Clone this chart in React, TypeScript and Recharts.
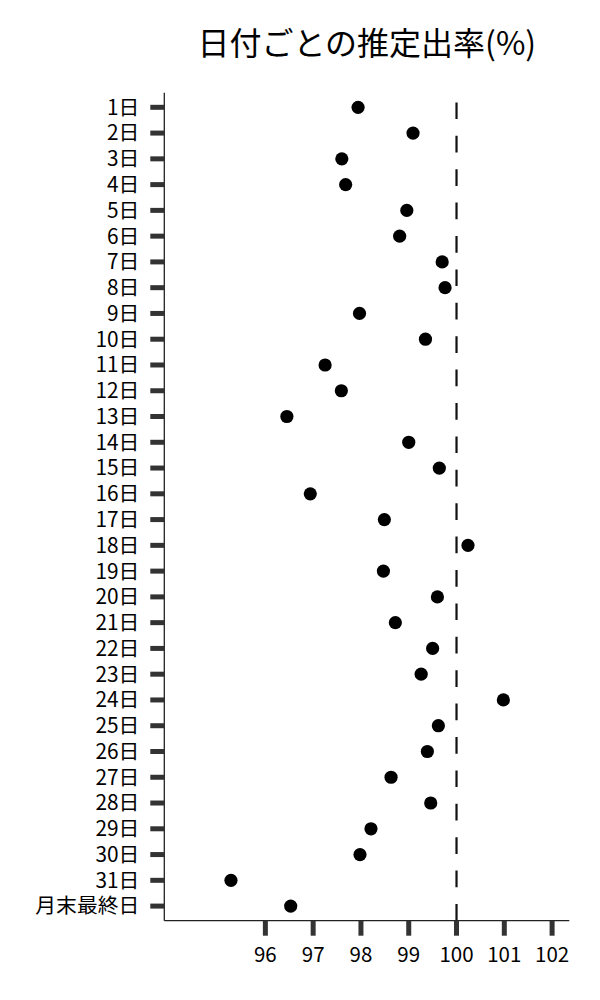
import React from "react";
import {
  ScatterChart,
  Scatter,
  XAxis,
  YAxis,
  ReferenceLine,
} from "recharts";

const dayLabels: string[] = [
  "1日", "2日", "3日", "4日", "5日", "6日", "7日", "8日", "9日", "10日",
  "11日", "12日", "13日", "14日", "15日", "16日", "17日", "18日", "19日", "20日",
  "21日", "22日", "23日", "24日", "25日", "26日", "27日", "28日", "29日", "30日",
  "31日", "月末最終日",
];

const payoutRates: number[] = [
  97.94, 99.09, 97.6, 97.68, 98.96, 98.81, 99.7, 99.76, 97.97, 99.35,
  97.25, 97.59, 96.45, 99.0, 99.64, 96.94, 98.49, 100.24, 98.47, 99.6,
  98.72, 99.5, 99.26, 100.98, 99.62, 99.39, 98.63, 99.46, 98.21, 97.98,
  95.28, 96.53,
];

const xTicks: number[] = [96, 97, 98, 99, 100, 101, 102];
const titleText = "日付ごとの推定出率(%)";

const data = dayLabels.map((label, i) => ({ idx: i, label, rate: payoutRates[i] }));
const yTicks = dayLabels.map((_, i) => i);

const FONT = '"Noto Sans CJK JP", "Noto Sans", sans-serif';

const Dot = (props: any) => {
  const { cx, cy } = props;
  if (cx == null || cy == null) return null;
  return <circle cx={cx} cy={cy} r={6.6} fill="#000" />;
};

export default function App() {
  const W = 592;
  const H = 992;
  return (
    <div style={{ position: "relative", width: W, height: H, fontFamily: FONT }}>
      <svg
        width={W}
        height={80}
        style={{ position: "absolute", left: 0, top: 0 }}
      >
        <text
          x={358.8}
          y={46.5}
          textAnchor="middle"
          fontSize={32}
          fontFamily={FONT}
          fill="#000"
        >
          {titleText}
        </text>
      </svg>
      <ScatterChart
        width={W}
        height={H}
        margin={{ top: 84.7, right: 30.7, bottom: 29.3, left: 0 }}
      >
        <XAxis
          type="number"
          dataKey="rate"
          domain={[93.885, 102.36]}
          ticks={xTicks}
          allowDataOverflow
          interval={0}
          height={50}
          tickSize={15}
          tickMargin={12}
          axisLine={{ stroke: "#222", strokeWidth: 1.3 }}
          tickLine={{ stroke: "#333", strokeWidth: 5 }}
          tick={{ fill: "#000", fontSize: 20.5, fontFamily: FONT }}
        />
        <YAxis
          type="number"
          dataKey="idx"
          domain={[-0.567, 31.567]}
          reversed
          ticks={yTicks}
          interval={0}
          allowDataOverflow
          width={156.3}
          tickSize={14}
          tickMargin={11}
          tickFormatter={(v: number) => dayLabels[v] ?? ""}
          axisLine={{ stroke: "#222", strokeWidth: 1.3 }}
          tickLine={{ stroke: "#333", strokeWidth: 5 }}
          tick={{ fill: "#000", fontSize: 20.8, fontFamily: FONT }}
        />
        <ReferenceLine
          x={100}
          stroke="#111"
          strokeWidth={2.2}
          strokeDasharray="16.7 16.7"
        />
        <Scatter data={data} shape={Dot} isAnimationActive={false} />
      </ScatterChart>
    </div>
  );
}
